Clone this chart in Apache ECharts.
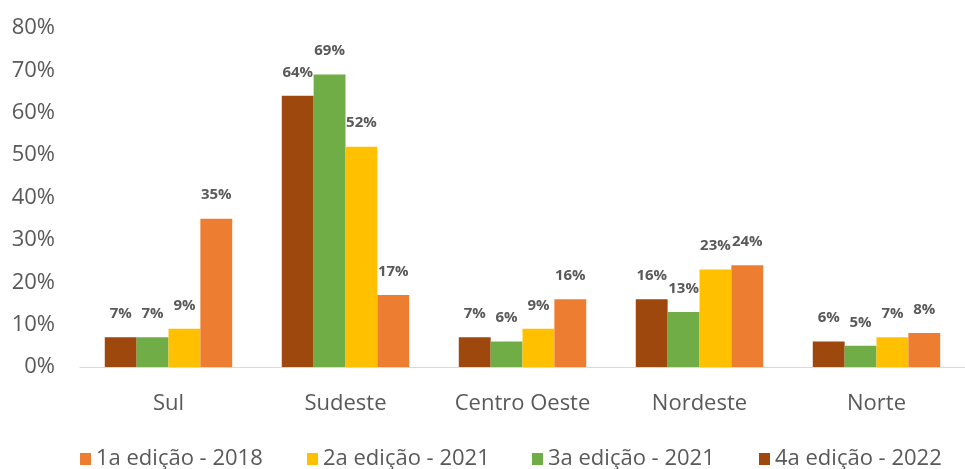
<!DOCTYPE html>
<html>
<head>
<meta charset="utf-8">
<script src="https://cdn.jsdelivr.net/npm/echarts@6/dist/echarts.min.js"></script>
<style>
  html, body { margin: 0; padding: 0; background: #fff; }
  #main { width: 965px; height: 469px; }
</style>
</head>
<body>
<div id="main"></div>
<script>
var myChart = echarts.init(document.getElementById('main'));

// regions on the x axis
var regions = ['Sul', 'Sudeste', 'Centro Oeste', 'Nordeste', 'Norte'];

// percentages per edition
var ed1_2018 = [35, 17, 16, 24, 8];
var ed2_2021 = [9, 52, 9, 23, 7];
var ed3_2021 = [7, 69, 6, 13, 5];
var ed4_2022 = [7, 64, 7, 16, 6];

var yTicks = [0, 10, 20, 30, 40, 50, 60, 70, 80];

var names = ['1a edição - 2018', '2a edição - 2021', '3a edição - 2021', '4a edição - 2022'];
var colors = ['#ED7D31', '#FFC000', '#70AD47', '#9E480E'];
var legendLeft = [80, 307, 532, 759];

function makeSeries(name, values, color) {
    return {
        name: name,
        type: 'bar',
        data: values,
        barGap: '0%',
        barCategoryGap: '28%',
        itemStyle: { color: color },
        label: {
            show: true,
            position: 'top',
            distance: 16,
            formatter: '{c}%',
            fontSize: 15,
            fontWeight: 'bold',
            color: '#595959',
            fontFamily: 'Open Sans'
        }
    };
}

var legends = names.map(function (n, i) {
    return {
        data: [n],
        left: legendLeft[i],
        top: 448,
        padding: 0,
        itemWidth: 11,
        itemHeight: 12,
        icon: 'rect',
        textStyle: { fontSize: 22, color: '#595959', fontFamily: 'Open Sans' }
    };
});

var option = {
    backgroundColor: '#fff',
    animation: false,
    legend: legends,
    grid: {
        left: 80,
        width: 916,
        top: 28,
        bottom: 102
    },
    xAxis: {
        type: 'category',
        data: regions,
        axisLine: { lineStyle: { color: '#d9d9d9' } },
        axisTick: { show: false },
        axisLabel: { fontSize: 22, color: '#595959', margin: 26, fontFamily: 'Open Sans' }
    },
    yAxis: {
        type: 'value',
        min: yTicks[0],
        max: yTicks[yTicks.length - 1],
        interval: 10,
        splitLine: { show: false },
        axisLine: { show: false },
        axisLabel: {
            formatter: '{value}%',
            fontSize: 22,
            color: '#595959',
            margin: 25,
            fontFamily: 'Open Sans'
        }
    },
    series: [
        makeSeries(names[3], ed4_2022, colors[3]),
        makeSeries(names[2], ed3_2021, colors[2]),
        makeSeries(names[1], ed2_2021, colors[1]),
        makeSeries(names[0], ed1_2018, colors[0])
    ]
};

myChart.setOption(option);
</script>
</body>
</html>
